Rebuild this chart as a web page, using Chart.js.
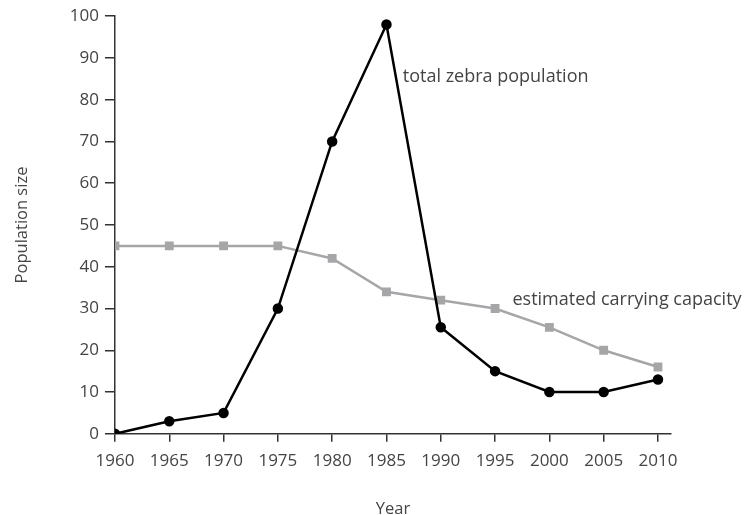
<!DOCTYPE html>
<html>
<head>
<meta charset="utf-8">
<script src="https://cdn.jsdelivr.net/npm/chart.js@4.4.0/dist/chart.umd.min.js"></script>
<style>
  html, body { margin: 0; padding: 0; background: #fff; }
  #wrap { width: 748px; height: 515px; }
</style>
</head>
<body>
<div id="wrap"><canvas id="myChart"></canvas></div>
<script>
const years = [1960, 1965, 1970, 1975, 1980, 1985, 1990, 1995, 2000, 2005, 2010];
const zebra = [0, 3, 5, 30, 70, 98, 25.5, 15, 10, 10, 13];
const capacity = [45, 45, 45, 45, 42, 34, 32, 30, 25.5, 20, 16];
const zebraLabel = 'total zebra population';
const capacityLabel = 'estimated carrying capacity';

const axisColor = '#333';
const textColor = '#444';
const fontFamily = "'Open Sans', 'DejaVu Sans', sans-serif";

// line labels written next to the lines
const lineLabels = {
  id: 'lineLabels',
  afterDatasetsDraw(chart) {
    const ctx = chart.ctx;
    const x = chart.scales.x, y = chart.scales.y;
    ctx.save();
    ctx.fillStyle = textColor;
    ctx.font = '18px ' + fontFamily;
    ctx.textAlign = 'left';
    ctx.textBaseline = 'middle';
    ctx.fillText(zebraLabel, x.getPixelForValue(1986.5), y.getPixelForValue(85.5));
    ctx.fillText(capacityLabel, x.getPixelForValue(1996.6), y.getPixelForValue(32));
    ctx.restore();
  }
};

const ctx = document.getElementById('myChart').getContext('2d');
const myChart = new Chart(ctx, {
  type: 'line',
  data: {
    datasets: [{
      label: zebraLabel,
      data: years.map((yr, i) => ({x: yr, y: zebra[i]})),
      borderColor: '#000',
      backgroundColor: '#000',
      borderWidth: 2.5,
      pointRadius: 4,
      pointStyle: 'circle',
      tension: 0
    }, {
      label: capacityLabel,
      data: years.map((yr, i) => ({x: yr, y: capacity[i]})),
      borderColor: '#a6a6a8',
      backgroundColor: '#a6a6a8',
      borderWidth: 2.5,
      pointRadius: 4.5,
      pointStyle: 'rect',
      tension: 0
    }]
  },
  options: {
    responsive: true,
    maintainAspectRatio: false,
    animation: false,
    layout: { padding: { top: 6, right: 77, left: 12, bottom: -4 } },
    plugins: {
      legend: { display: false },
      tooltip: { enabled: false }
    },
    scales: {
      x: {
        type: 'linear',
        min: 1960,
        max: 2011.2,
        ticks: {
          stepSize: 5,
          includeBounds: false,
          color: textColor,
          font: { family: fontFamily, size: 17 },
          padding: 9,
          callback: v => String(v)
        },
        grid: { display: true, drawOnChartArea: false, drawTicks: true, tickLength: 8, color: axisColor, lineWidth: 1.5 },
        border: { display: true, color: axisColor, width: 1.5 },
        title: {
          display: true,
          text: 'Year',
          color: textColor,
          font: { family: fontFamily, size: 16.5 },
          padding: { top: 19, bottom: 0 }
        }
      },
      y: {
        min: 0,
        max: 100,
        ticks: {
          stepSize: 10,
          color: textColor,
          font: { family: fontFamily, size: 17 },
          padding: 6
        },
        grid: { display: true, drawOnChartArea: false, drawTicks: true, tickLength: 10, color: axisColor, lineWidth: 1.5 },
        border: { display: true, color: axisColor, width: 1.5 },
        title: {
          display: true,
          text: 'Population size',
          color: textColor,
          font: { family: fontFamily, size: 16.5 },
          padding: { top: 0, bottom: 32 }
        }
      }
    }
  },
  plugins: [lineLabels]
});
</script>
</body>
</html>
